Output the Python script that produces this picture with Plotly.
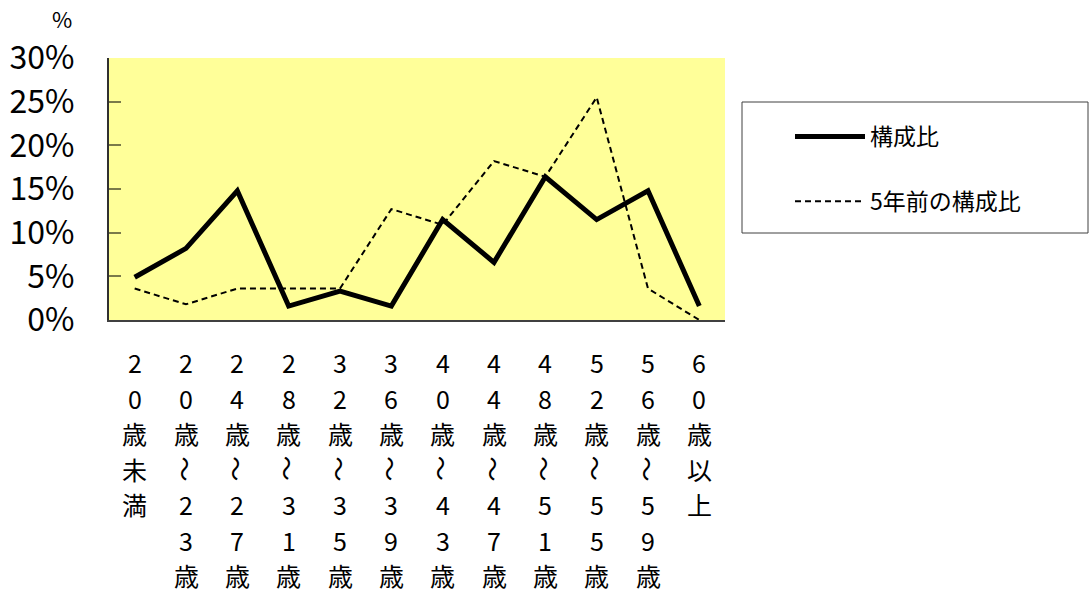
import plotly.graph_objects as go

categories = ["20歳未満", "20歳〜23歳", "24歳〜27歳", "28歳〜31歳", "32歳〜35歳", "36歳〜39歳",
              "40歳〜43歳", "44歳〜47歳", "48歳〜51歳", "52歳〜55歳", "56歳〜59歳", "60歳以上"]
current = [4.9, 8.2, 14.8, 1.6, 3.3, 1.6, 11.5, 6.6, 16.4, 11.5, 14.8, 1.6]
previous = [3.6, 1.8, 3.6, 3.6, 3.6, 12.7, 10.9, 18.2, 16.4, 25.5, 3.6, 0.0]
y_ticks = [0, 5, 10, 15, 20, 25, 30]
y_ticktext = [f"{v}%" for v in y_ticks]
series_names = ["構成比", "5年前の構成比"]

FONT = "Noto Sans CJK JP"

fig = go.Figure()
fig.add_trace(go.Scatter(x=categories, y=current, mode="lines", name=series_names[0],
                         legendgroup="a",
                         line=dict(color="black", width=5), cliponaxis=False))
fig.add_trace(go.Scatter(x=categories, y=previous, mode="lines", name=series_names[1],
                         legendgroup="b",
                         line=dict(color="black", width=2, dash="6px,4px"), cliponaxis=False))

# vertical (stacked) category labels
row_gap = 35.5
for cat in categories:
    for i, ch in enumerate(cat):
        fig.add_annotation(x=cat, xref="x", y=0, yref="paper", text=ch, showarrow=False,
                           yanchor="middle", xanchor="center", yshift=-(42 + i * row_gap),
                           textangle=90 if ch == "〜" else 0,
                           font=dict(family=FONT, size=25, color="black"))

# unit label
fig.add_annotation(x=0, xref="paper", y=1, yref="paper", text="%", showarrow=False,
                   xanchor="center", yanchor="middle", xshift=-47, yshift=40,
                   font=dict(family=FONT, size=22, color="black"))

# legend frame
fig.add_shape(type="rect", xref="paper", yref="paper", x0=(742 - 109) / 616, x1=(1088 - 109) / 616,
              y0=(320 - 233) / 262, y1=(320 - 102) / 262, line=dict(color="#404040", width=1),
              fillcolor="rgba(0,0,0,0)")

fig.update_layout(
    width=1089, height=592,
    margin=dict(l=109, r=364, t=58, b=272, pad=0),
    paper_bgcolor="white", plot_bgcolor="#FFFF99",
    font=dict(family=FONT, color="black"),
    showlegend=True,
    legend=dict(x=(790 - 109) / 616, xanchor="left", y=(320 - 115) / 262, yanchor="top",
                bgcolor="rgba(0,0,0,0)", borderwidth=0, itemwidth=70,
                tracegroupgap=32, traceorder="grouped",
                font=dict(family=FONT, size=23, color="black")),
    xaxis=dict(type="category", range=[-0.5, 11.5], showticklabels=False, ticks="",
               showgrid=False, zeroline=False, showline=True, linecolor="#404040", linewidth=2),
    yaxis=dict(range=[0, 30], tickvals=y_ticks, ticktext=y_ticktext, ticks="inside", ticklen=12,
               tickcolor="#7a7a4a", tickwidth=2, showgrid=False, zeroline=False, showline=True,
               linecolor="#303030", linewidth=2, ticklabelstandoff=26, automargin=False,
               tickfont=dict(family=FONT, size=32, color="black")),
)

fig.write_html("out.html")
